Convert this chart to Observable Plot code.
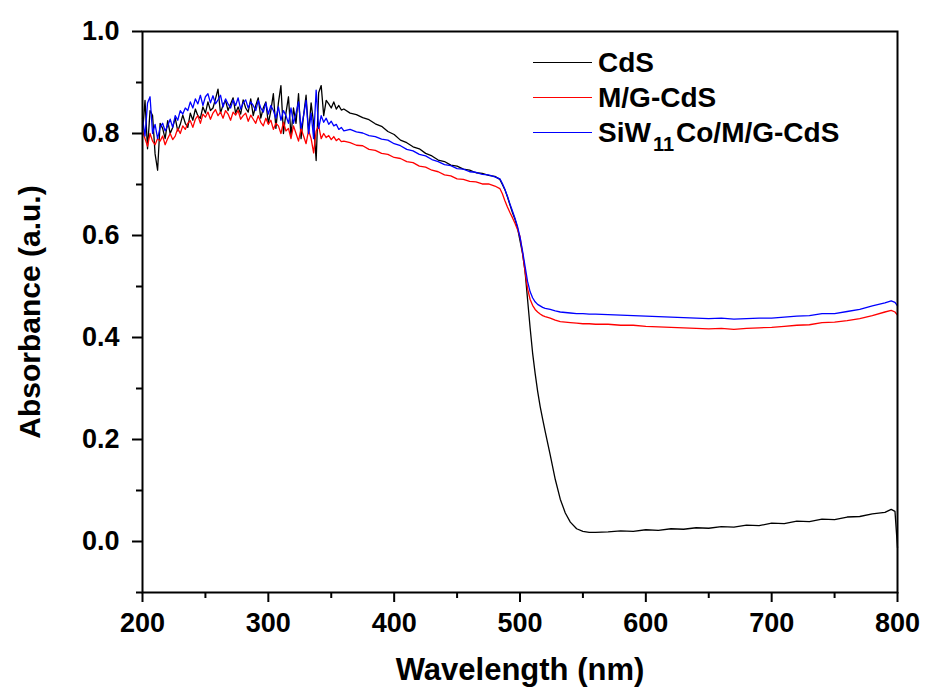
<!DOCTYPE html>
<html><head><meta charset="utf-8">
<script src="https://cdn.jsdelivr.net/npm/d3@7"></script>
<script src="https://cdn.jsdelivr.net/npm/@observablehq/plot@0.6"></script>
<style>
body{margin:0;background:#fff;}
#wrap{position:relative;width:926px;height:697px;}
#legend{position:absolute;left:533px;top:45px;font:bold 28px "Liberation Sans",Arial,sans-serif;color:#000;}
.row{display:flex;align-items:center;height:35px;white-space:nowrap;}
.sw{width:59px;height:0;border-top:1.5px solid;margin-right:6px;}
sub{font-size:20px;vertical-align:-9px;line-height:0;margin:0 2px;}
</style></head>
<body><div id="wrap"></div>
<script>
const wavelength = [200,202,204,206,208,210,212,214,216,218,220,222,224,226,228,230,232,234,236,238,240,242,244,246,248,250,252,254,256,258,260,262,264,266,268,270,272,274,276,278,280,282,284,286,288,290,292,294,296,298,300,302,304,306,308,310,312,314,316,318,320,322,324,326,328,330,332,334,336,338,340,342,344,346,348,350,352,354,356,358,360,
365,370,375,380,385,390,395,400,405,410,415,420,425,430,435,440,445,450,455,460,465,470,475,480,
484,486,488,490,492,494,496,498,500,502,504,506,508,510,512,514,516,518,520,
524,528,532,536,540,545,550,555,560,
570,580,590,600,610,620,630,640,650,660,670,680,690,700,710,720,730,740,750,760,770,780,790,
795,798,800];

const cds = [0.80,0.865,0.77,0.845,0.835,0.76,0.728,0.82,0.81,0.79,0.825,0.80,0.812,0.83,0.805,0.818,0.836,0.82,0.812,0.84,0.826,0.848,0.835,0.83,0.852,0.84,0.862,0.845,0.85,0.868,0.887,0.84,0.856,0.865,0.845,0.858,0.87,0.84,0.852,0.838,0.866,0.85,0.842,0.868,0.835,0.855,0.87,0.83,0.85,0.862,0.82,0.845,0.878,0.81,0.86,0.894,0.80,0.84,0.872,0.795,0.85,0.82,0.878,0.79,0.835,0.875,0.80,0.86,0.82,0.747,0.88,0.894,0.835,0.865,0.858,0.85,0.862,0.848,0.855,0.846,0.848,
0.84,0.837,0.831,0.827,0.819,0.814,0.804,0.798,0.787,0.782,0.774,0.77,0.761,0.756,0.748,0.745,0.738,0.736,0.73,0.728,0.723,0.722,0.718,0.716,
0.71,0.70,0.69,0.676,0.66,0.645,0.632,0.615,0.59,0.565,0.53,0.475,0.42,0.37,0.33,0.295,0.265,0.24,0.216,
0.17,0.122,0.083,0.056,0.038,0.025,0.02,0.018,0.018,
0.019,0.021,0.02,0.023,0.022,0.025,0.024,0.027,0.026,0.029,0.028,0.032,0.031,0.036,0.035,0.04,0.039,0.044,0.043,0.048,0.049,0.054,0.057,
0.063,0.059,-0.012];

const mgCds = [0.805,0.79,0.775,0.80,0.785,0.778,0.79,0.785,0.795,0.778,0.79,0.80,0.788,0.795,0.81,0.80,0.815,0.808,0.82,0.825,0.812,0.828,0.835,0.82,0.838,0.832,0.842,0.828,0.84,0.847,0.835,0.842,0.83,0.845,0.838,0.826,0.842,0.836,0.845,0.828,0.835,0.84,0.824,0.836,0.828,0.82,0.835,0.822,0.815,0.83,0.818,0.826,0.808,0.82,0.815,0.80,0.822,0.805,0.81,0.79,0.815,0.80,0.785,0.81,0.795,0.78,0.806,0.79,0.762,0.805,0.815,0.79,0.80,0.792,0.796,0.788,0.794,0.786,0.79,0.784,0.785,
0.782,0.777,0.776,0.769,0.767,0.761,0.759,0.753,0.751,0.745,0.743,0.736,0.734,0.728,0.725,0.719,0.717,0.711,0.71,0.706,0.705,0.701,0.701,0.697,
0.692,0.682,0.668,0.656,0.645,0.635,0.624,0.612,0.598,0.566,0.53,0.496,0.475,0.463,0.455,0.45,0.446,0.443,0.441,
0.438,0.434,0.431,0.43,0.429,0.428,0.427,0.427,0.426,
0.426,0.424,0.424,0.422,0.421,0.42,0.419,0.418,0.417,0.418,0.416,0.418,0.419,0.42,0.422,0.424,0.425,0.429,0.43,0.433,0.437,0.443,0.45,
0.453,0.45,0.444];

const siwCds = [0.83,0.795,0.86,0.872,0.80,0.818,0.79,0.812,0.82,0.805,0.815,0.828,0.812,0.835,0.826,0.845,0.838,0.85,0.845,0.862,0.85,0.868,0.858,0.875,0.855,0.872,0.878,0.86,0.874,0.858,0.866,0.875,0.852,0.868,0.858,0.85,0.866,0.855,0.87,0.848,0.86,0.866,0.85,0.862,0.855,0.845,0.865,0.85,0.842,0.86,0.838,0.855,0.845,0.83,0.852,0.826,0.845,0.835,0.82,0.85,0.82,0.84,0.862,0.81,0.835,0.865,0.80,0.84,0.79,0.885,0.81,0.835,0.822,0.83,0.818,0.824,0.815,0.818,0.808,0.812,0.805,
0.808,0.803,0.801,0.796,0.794,0.789,0.787,0.78,0.776,0.769,0.766,0.759,0.756,0.749,0.745,0.739,0.737,0.731,0.73,0.725,0.724,0.72,0.719,0.715,
0.711,0.702,0.69,0.677,0.662,0.648,0.634,0.618,0.597,0.57,0.54,0.51,0.49,0.478,0.47,0.465,0.462,0.459,0.457,
0.455,0.452,0.45,0.449,0.448,0.447,0.447,0.446,0.446,
0.445,0.444,0.443,0.442,0.441,0.44,0.439,0.438,0.437,0.438,0.436,0.437,0.438,0.438,0.44,0.442,0.443,0.447,0.447,0.451,0.455,0.462,0.468,
0.472,0.469,0.462];

const seriesNames = ["CdS", "M/G-CdS", "SiW11Co/M/G-CdS"];
const seriesColors = ["#000000", "#ff0000", "#0000ff"];
const xMajorTicks = [200,300,400,500,600,700,800];
const xMinorTicks = [250,350,450,550,650,750];
const yMajorTicks = [0,0.2,0.4,0.6,0.8,1.0];
const yMinorTicks = [-0.1,0.1,0.3,0.5,0.7,0.9];

const seriesValues = [cds, mgCds, siwCds];
const rows = seriesNames.flatMap((name, s) => wavelength.map((w, i) => ({w, a: seriesValues[s][i], name})));

const font = '"Liberation Sans", Arial, sans-serif';
const chart = Plot.plot({
  width: 926, height: 697,
  marginLeft: 142, marginRight: 29, marginTop: 31, marginBottom: 105,
  x: {domain: [200, 800]},
  y: {domain: [-0.1, 1.0]},
  color: {domain: seriesNames, range: seriesColors},
  style: {fontFamily: font, fontWeight: "bold", background: "white", color: "black"},
  marks: [
    Plot.axisX({ticks: xMajorTicks, tickSize: 10, tickPadding: 10, fontSize: 27, fontWeight: "bold", stroke: "black", strokeWidth: 2, label: null}),
    Plot.axisX({ticks: xMinorTicks, tickSize: 6, tickFormat: () => "", stroke: "black", strokeWidth: 2, label: null}),
    Plot.axisY({ticks: yMajorTicks, tickSize: 10, tickPadding: 13, fontSize: 27, fontWeight: "bold", stroke: "black", strokeWidth: 2, tickFormat: d => d.toFixed(1), label: null}),
    Plot.axisY({ticks: yMinorTicks, tickSize: 6, tickFormat: () => "", stroke: "black", strokeWidth: 2, label: null}),
    Plot.line(rows, {x: "w", y: "a", z: "name", stroke: "name", strokeWidth: 1.3}),
    Plot.frame({stroke: "black", strokeWidth: 2}),
    Plot.text(["Wavelength (nm)"], {frameAnchor: "bottom", dy: 78, fontSize: 31, fontWeight: "bold", lineAnchor: "middle", textAnchor: "middle"}),
    Plot.text(["Absorbance (a.u.)"], {frameAnchor: "left", dx: -112, rotate: -90, fontSize: 30, fontWeight: "bold", lineAnchor: "middle", textAnchor: "middle"})
  ]
});
const wrap = document.getElementById("wrap");
wrap.appendChild(chart);

const legend = document.createElement("div");
legend.id = "legend";
seriesNames.forEach((name, i) => {
  const row = document.createElement("div");
  row.className = "row";
  const sw = document.createElement("span");
  sw.className = "sw";
  sw.style.borderTopColor = seriesColors[i];
  row.appendChild(sw);
  const label = document.createElement("span");
  label.innerHTML = name.replace("W11", "W<sub>11</sub>");
  row.appendChild(label);
  legend.appendChild(row);
});
wrap.appendChild(legend);
</script>
</body></html>
